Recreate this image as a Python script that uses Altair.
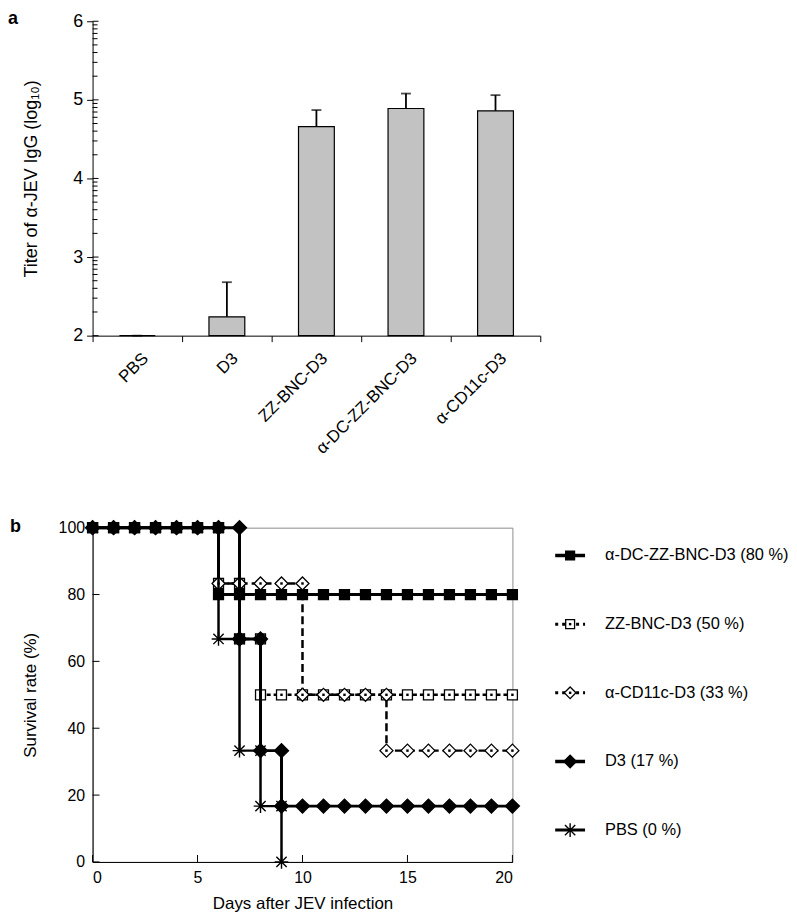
import altair as alt
import pandas as pd
import math

FONT = "Liberation Sans"

# ---------------- panel a data ----------------
groups = ["PBS", "D3", "ZZ-BNC-D3", "α-DC-ZZ-BNC-D3", "α-CD11c-D3"]
titer = [2.0, 2.24, 4.66, 4.89, 4.86]
titer_upper = [2.0, 2.68, 4.87, 5.08, 5.06]
titer_ticks = [2, 3, 4, 5, 6]
minor_mantissas = [2, 3, 4, 5, 6, 7, 8, 9]

# ---------------- panel b data ----------------
adc_days = [0, 1, 2, 3, 4, 5, 6, 6, 7, 8, 9, 10, 11, 12, 13, 14, 15, 16, 17, 18, 19, 20]
adc_surv = [100, 100, 100, 100, 100, 100, 100, 80, 80, 80, 80, 80, 80, 80, 80, 80, 80, 80, 80, 80, 80, 80]

zz_days = [0, 1, 2, 3, 4, 5, 6, 6, 7, 7, 8, 8, 9, 10, 11, 12, 13, 14, 15, 16, 17, 18, 19, 20]
zz_surv = [100, 100, 100, 100, 100, 100, 100, 83.3, 83.3, 66.7, 66.7, 50, 50, 50, 50, 50, 50, 50, 50, 50, 50, 50, 50, 50]

cd_days = [0, 1, 2, 3, 4, 5, 6, 6, 7, 8, 9, 10, 10, 11, 12, 13, 14, 14, 15, 16, 17, 18, 19, 20]
cd_surv = [100, 100, 100, 100, 100, 100, 100, 83.3, 83.3, 83.3, 83.3, 83.3, 50, 50, 50, 50, 50, 33.3, 33.3, 33.3, 33.3, 33.3, 33.3, 33.3]

d3_days = [0, 1, 2, 3, 4, 5, 6, 7, 7, 8, 8, 9, 9, 10, 11, 12, 13, 14, 15, 16, 17, 18, 19, 20]
d3_surv = [100, 100, 100, 100, 100, 100, 100, 100, 66.7, 66.7, 33.3, 33.3, 16.7, 16.7, 16.7, 16.7, 16.7, 16.7, 16.7, 16.7, 16.7, 16.7, 16.7, 16.7]

pbs_days = [0, 1, 2, 3, 4, 5, 6, 6, 7, 7, 8, 8, 9, 9]
pbs_surv = [100, 100, 100, 100, 100, 100, 100, 66.7, 66.7, 33.3, 33.3, 16.7, 16.7, 0]

legend_labels = ["α-DC-ZZ-BNC-D3 (80 %)", "ZZ-BNC-D3 (50 %)", "α-CD11c-D3 (33 %)", "D3 (17 %)", " PBS (0 %)"]
day_ticks = [0, 5, 10, 15, 20]
surv_ticks = [0, 20, 40, 60, 80, 100]

ASTERISK = "M-0.75,-0.75L0.75,0.75M-0.75,0.75L0.75,-0.75M0,-1L0,1M-1,0L1,0"

styles = [
    dict(days=adc_days, surv=adc_surv, dash=[1, 0], lw=3, shape="square", fill="black", size=100, dot=False),
    dict(days=zz_days, surv=zz_surv, dash=[4, 3], lw=2.5, shape="square", fill="white", size=100, dot=True),
    dict(days=cd_days, surv=cd_surv, dash=[8, 4], lw=2.5, shape="diamond", fill="white", size=170, dot=True),
    dict(days=d3_days, surv=d3_surv, dash=[1, 0], lw=3, shape="diamond", fill="black", size=200, dot=False),
    dict(days=pbs_days, surv=pbs_surv, dash=[1, 0], lw=2.5, shape=ASTERISK, fill=None, size=190, dot=False),
]

# ================= panel a =================
W_A, H_A = 450, 316
df_bar = pd.DataFrame({"group": groups, "titer": titer, "upper": titer_upper})
xa = alt.X("group:N", sort=groups,
           scale=alt.Scale(paddingInner=0, paddingOuter=0),
           axis=alt.Axis(title=None, labelAngle=-45, labelAlign="right", labelBaseline="middle",
                         labelFontSize=17, labelPadding=14, labelOffset=8, tickBand="extent",
                         tickSize=6, tickColor="black", domainColor="black", labelColor="black",
                         grid=False))
ya_scale = alt.Scale(domain=[2, 6], nice=False, zero=False)
bars = alt.Chart(df_bar).mark_bar(size=36, fill="#c2c2c2", stroke="black", strokeWidth=1.2).encode(
    x=xa,
    y=alt.Y("titer:Q", scale=ya_scale,
            axis=alt.Axis(values=titer_ticks, format="d", title="Titer of α-JEV IgG (log₁₀)",
                          titleFontSize=18, titleFontWeight="normal", titlePadding=32,
                          labelFontSize=18, labelPadding=4, tickSize=6, tickColor="black",
                          domainColor="black", labelColor="black", titleColor="black", grid=False)),
    y2=alt.datum(2),
)
err_rule = alt.Chart(df_bar).mark_rule(color="black", strokeWidth=1.8).encode(
    x=alt.X("group:N", sort=groups), y=alt.Y("titer:Q"), y2="upper:Q")
err_cap = alt.Chart(df_bar).mark_tick(color="black", thickness=1.8, size=10).encode(
    x=alt.X("group:N", sort=groups), y=alt.Y("upper:Q"))

minor_vals = [d + math.log10(m) for d in titer_ticks[:-1] for m in minor_mantissas]
minor = alt.Chart(pd.DataFrame({"v": minor_vals})).mark_rule(color="black", strokeWidth=1).encode(
    y=alt.Y("v:Q"), x=alt.value(0), x2=alt.value(5))
major_in = alt.Chart(pd.DataFrame({"v": titer_ticks})).mark_rule(color="black", strokeWidth=1).encode(
    y=alt.Y("v:Q"), x=alt.value(0), x2=alt.value(6))
label_a = alt.Chart(pd.DataFrame({"t": ["a"]})).mark_text(
    fontSize=18, fontWeight="bold", align="left", baseline="alphabetic", color="black").encode(
    text="t:N", x=alt.value(-85), y=alt.value(3))

panel_a = alt.layer(minor, major_in, bars, err_rule, err_cap, label_a).properties(
    width=W_A, height=H_A, view=alt.ViewBackground(stroke=None))

# ================= panel b =================
W_B, H_B = 422, 336
xs = alt.Scale(domain=[0, 20], nice=False)
ys = alt.Scale(domain=[0, 100], nice=False)
x_axis = alt.Axis(values=day_ticks, title="Days after JEV infection", titleFontSize=17,
                  titleFontWeight="normal", titlePadding=10, labelFontSize=16, labelPadding=8,
                  ticks=False, domainColor="black", labelColor="black", titleColor="black", grid=False)
y_axis = alt.Axis(values=surv_ticks, title="Survival rate  (%)", titleFontSize=17,
                  titleFontWeight="normal", titlePadding=19, labelFontSize=16, labelPadding=8,
                  ticks=False, domainColor="black", labelColor="black", titleColor="black", grid=False)

layers_b = []
xt = alt.Chart(pd.DataFrame({"v": day_ticks})).mark_rule(color="black", strokeWidth=1).encode(
    x=alt.X("v:Q", scale=xs, axis=x_axis), y=alt.value(H_B), y2=alt.value(H_B - 7))
yt = alt.Chart(pd.DataFrame({"v": surv_ticks})).mark_rule(color="black", strokeWidth=1).encode(
    y=alt.Y("v:Q", scale=ys, axis=y_axis), x=alt.value(0), x2=alt.value(7))
layers_b += [xt, yt]

for i, s in enumerate(styles):
    df = pd.DataFrame({"day": s["days"], "surv": s["surv"], "idx": list(range(len(s["days"])))})
    ch = alt.Chart(df)
    enc = dict(x=alt.X("day:Q", scale=xs, axis=x_axis), y=alt.Y("surv:Q", scale=ys, axis=y_axis))
    layers_b.append(ch.mark_line(color="black", strokeWidth=s["lw"], strokeDash=s["dash"]).encode(
        order=alt.Order("idx:Q"), **enc))
    if s["fill"] is None:
        pt = ch.mark_point(shape=s["shape"], size=s["size"], stroke="black", strokeWidth=1.4,
                           filled=False, opacity=1)
    else:
        pt = ch.mark_point(shape=s["shape"], size=s["size"], fill=s["fill"], stroke="black",
                           strokeWidth=1.3, filled=True, opacity=1)
    layers_b.append(pt.encode(**enc))
    if s["dot"]:
        layers_b.append(ch.mark_point(shape="square", size=6, fill="black", filled=True,
                                      opacity=1).encode(**enc))

label_b = alt.Chart(pd.DataFrame({"t": ["b"]})).mark_text(
    fontSize=18, fontWeight="bold", align="left", baseline="alphabetic", color="black").encode(
    text="t:N", x=alt.value(-83), y=alt.value(4))
layers_b.append(label_b)

panel_b = alt.layer(*layers_b).properties(
    width=W_B, height=H_B, view=alt.ViewBackground(stroke="#8c8c8c", strokeWidth=1))

# ================= legend =================
leg_layers = []
row_y = [28 + 69 * i for i in range(len(legend_labels))]
for i, (lab, s) in enumerate(zip(legend_labels, styles)):
    d1 = pd.DataFrame({"t": [lab]})
    c = alt.Chart(d1)
    yv = alt.value(row_y[i])
    leg_layers.append(c.mark_rule(color="black", strokeWidth=s["lw"] + 0.5,
                                  strokeDash=[3, 4] if s["dash"][1] else [1, 0]).encode(
        x=alt.value(0), x2=alt.value(30), y=yv))
    if s["fill"] is None:
        pt = c.mark_point(shape=s["shape"], size=s["size"], stroke="black", strokeWidth=1.4,
                          filled=False, opacity=1)
    else:
        pt = c.mark_point(shape=s["shape"], size=s["size"] * 0.8, fill=s["fill"], stroke="black",
                          strokeWidth=1.3, filled=True, opacity=1)
    leg_layers.append(pt.encode(x=alt.value(15), y=yv))
    if s["dot"]:
        leg_layers.append(c.mark_point(shape="square", size=6, fill="black", filled=True,
                                       opacity=1).encode(x=alt.value(15), y=yv))
    leg_layers.append(c.mark_text(fontSize=16.5, align="left", baseline="middle", color="black").encode(
        text="t:N", x=alt.value(50), y=yv))

legend = alt.layer(*leg_layers).properties(width=225, height=H_B,
                                           view=alt.ViewBackground(stroke=None))

bottom = alt.hconcat(panel_b, legend, spacing=30)
chart = alt.vconcat(panel_a, bottom, spacing=60).properties(
    padding={"left": 0, "top": 0, "right": 0, "bottom": 0}
).configure(font=FONT).configure_view(stroke=None).configure_axis(grid=False)

chart.save("out.html", embed_options={"renderer": "svg", "actions": False})
